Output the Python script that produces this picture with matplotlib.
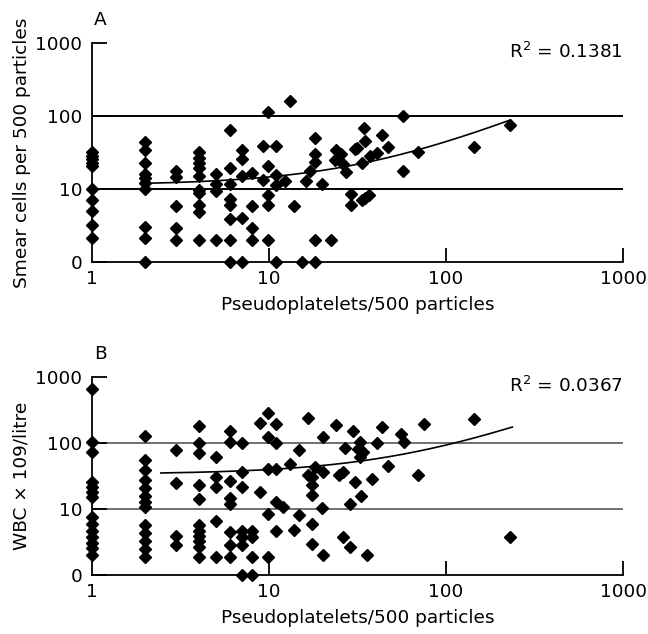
import numpy as np
import matplotlib
matplotlib.use("Agg")
import matplotlib.pyplot as plt

# values (log-log axes, bottom row is plotted at 1 and labelled "0")
a_x = [1, 1, 1, 1, 1, 1, 1, 1, 1, 1,
       2, 2, 2, 2, 2, 2, 2, 2, 2, 2,
       3, 3, 3, 3, 3,
       4, 4, 4, 4, 4, 4, 4, 4, 4, 4,
       5, 5, 5, 5,
       6, 6, 6, 6, 6, 6, 6, 6,
       7, 7, 7, 7, 7,
       8, 8, 8, 8,
       9.2, 9.2,
       9.9, 9.9, 9.9, 9.9, 9.9,
       11, 11, 11, 11,
       12.3, 13.1, 13.8, 15.3, 16.2, 17.1,
       18.2, 18.2, 18.2, 18.2, 18.2,
       19.9, 22.4, 23.7, 24, 25.4, 26.1, 27.2,
       29.1, 29.1, 30.5, 31.5, 33.4, 33.4, 34.2, 35, 35, 36.7,
       37.2, 40.6, 43.3, 47.2, 57.4, 57.4, 69.8, 144, 230]
a_y = [32, 28, 25.5, 23, 20.5, 10, 7, 5, 3.2, 2.1,
       44, 34, 23, 16, 14, 12, 10, 3, 2.1, 1,
       17.5, 14.5, 5.8, 2.9, 2.0,
       32, 26.6, 22.7, 19.4, 14.9, 9.8, 8.8, 6.1, 4.8, 2.0,
       16.2, 11.8, 9.3, 2.0,
       65, 19.4, 11.8, 7.3, 6.1, 3.9, 2, 1,
       34.6, 25.8, 15.2, 4.0, 1,
       16.6, 5.8, 2.9, 2,
       38.4, 13.4,
       112, 20.9, 8.4, 6.1, 2,
       39, 15.7, 11.5, 1,
       12.7, 162, 5.8, 1, 12.7, 17.5,
       50, 30.5, 23.2, 2, 1,
       11.8, 2, 25.2, 34.6, 30, 22, 17,
       8.5, 6.0, 35, 36, 22.7, 7.1, 68.5, 45, 7.5, 8.4,
       28, 31.1, 54.3, 37.6, 101, 17.8, 32.1, 37.6, 74.5]

b_x = [1, 1, 1, 1, 1, 1, 1, 1, 1, 1, 1, 1, 1, 1,
       2, 2, 2, 2, 2, 2, 2, 2, 2, 2, 2, 2, 2,
       3, 3, 3, 3,
       4, 4, 4, 4, 4, 4, 4, 4, 4, 4, 4,
       5, 5, 5, 5, 5,
       6, 6, 6, 6, 6, 6, 6, 6,
       7, 7, 7, 7, 7, 7, 7,
       8, 8, 8, 8,
       8.9, 8.9,
       9.9, 9.9, 9.9, 9.9, 9.9,
       11, 11, 11, 11, 11,
       12, 13.1, 13.8, 14.7, 14.7, 16.6, 16.6,
       17.5, 17.5, 17.5, 17.5, 17.5,
       18.2, 20, 20.2, 20.2, 20.2,
       23.9, 25, 26.1, 26.1, 27, 28.7, 28.7, 29.9, 30.6,
       32.7, 32.7, 32, 34, 33, 35.6, 38, 40.6, 43.3, 46.9,
       56, 57.7, 69.8, 75, 144, 230]
b_y = [658, 105, 74, 25.4, 21.3, 17.9, 15.0, 7.5, 5.9, 4.7, 3.8, 3.1, 2.6, 2.0,
       129, 55, 39, 27.5, 20.6, 15.9, 12.6, 10.6, 5.7, 4.3, 3.3, 2.5, 1.9,
       79, 24.8, 3.9, 2.8,
       179, 100, 70, 23.4, 14.2, 5.7, 4.7, 3.9, 3.3, 2.7, 1.85,
       60.6, 30.2, 21.3, 6.5, 1.9,
       150, 102, 26.8, 14.7, 11.9, 4.5, 2.85, 1.9,
       100, 36, 21.8, 4.7, 3.8, 2.85, 1,
       4.7, 3.7, 1.9, 1,
       18.3, 199,
       285, 122, 40.4, 8.4, 1.9,
       194, 100, 40.4, 12.6, 4.7,
       10.8, 48.7, 4.8, 77.5, 8.1, 241, 32.4,
       30.6, 22.9, 16.2, 6.0, 2.9,
       43.3, 10.2, 123, 36.5, 2.0,
       189, 33.2, 36.5, 3.8, 85, 11.8, 2.7, 150, 25.7,
       104, 61, 82, 73, 15.6, 2.0, 28.2, 100, 175, 44.4,
       135, 104, 33.2, 196, 233, 3.8]

# trend lines as drawn (linear fit shown on log axes): intercept, slope, x range
a_trend = (11.3, 0.333, 2.0, 230)
b_trend = (33.7, 0.594, 2.45, 237)

x_ticks = [1, 10, 100, 1000]
x_ticklabels = ["1", "10", "100", "1000"]
y_ticks = [1, 10, 100, 1000]
y_ticklabels = ["0", "10", "100", "1000"]

fig = plt.figure(figsize=(6.48, 6.34), dpi=100)
axA = fig.add_axes([92 / 648, 1 - 262 / 634, 531 / 648, 219 / 634])
axB = fig.add_axes([92 / 648, 1 - 575 / 634, 531 / 648, 198 / 634])

panels = [
    (axA, a_x, a_y, a_trend, "A", "Smear cells per 500 particles", "R$^2$ = 0.1381", "black", 219),
    (axB, b_x, b_y, b_trend, "B", "WBC \u00d7 109/litre", "R$^2$ = 0.0367", "#707070", 198),
]

FS = 13.3
for ax, xs, ys, trend, letter, ylab, rtext, gcol, h in panels:
    ax.set_xscale("log")
    ax.set_yscale("log")
    ax.set_xlim(1, 1000)
    ax.set_ylim(1, 1000)
    for s in ["top", "right"]:
        ax.spines[s].set_visible(False)
    for s in ["left", "bottom"]:
        ax.spines[s].set_linewidth(1.3)

    # horizontal reference lines at 10 and 100
    for yv in [10, 100]:
        ax.axhline(yv, color=gcol, lw=1.4, zorder=1)

    a, b, x0, x1 = trend
    tx = np.geomspace(x0, x1, 200)
    ax.plot(tx, a + b * tx, color="black", lw=1.2, zorder=2)

    ax.plot(xs, ys, linestyle="none", marker="D", ms=6.2, color="black",
            clip_on=False, zorder=3)

    ax.set_xticks(x_ticks)
    ax.set_xticklabels(x_ticklabels)
    ax.set_yticks(y_ticks)
    ax.set_yticklabels(y_ticklabels)
    ax.minorticks_off()
    ax.tick_params(axis="x", direction="in", length=10, width=1.3, pad=6, labelsize=FS)
    ax.tick_params(axis="y", direction="in", length=11, width=1.3, pad=7, labelsize=FS)
    ax.xaxis.get_major_ticks()[0].tick1line.set_visible(False)

    ax.set_xlabel("Pseudoplatelets/500 particles", fontsize=FS)
    ax.xaxis.label.set_va("center")
    ax.xaxis.set_label_coords(0.5, -43 / h)
    ax.set_ylabel(ylab, fontsize=FS)
    ax.yaxis.label.set_va("center")
    ax.yaxis.set_label_coords(-70 / 531, 0.5)

    ax.text(8 / 531, 1 + 23 / h, letter, transform=ax.transAxes, fontsize=FS,
            ha="center", va="center")
    ax.text(1.0, 1 - 9 / h, rtext, transform=ax.transAxes, fontsize=FS,
            ha="right", va="center")

fig.savefig("out.png", dpi=100)
